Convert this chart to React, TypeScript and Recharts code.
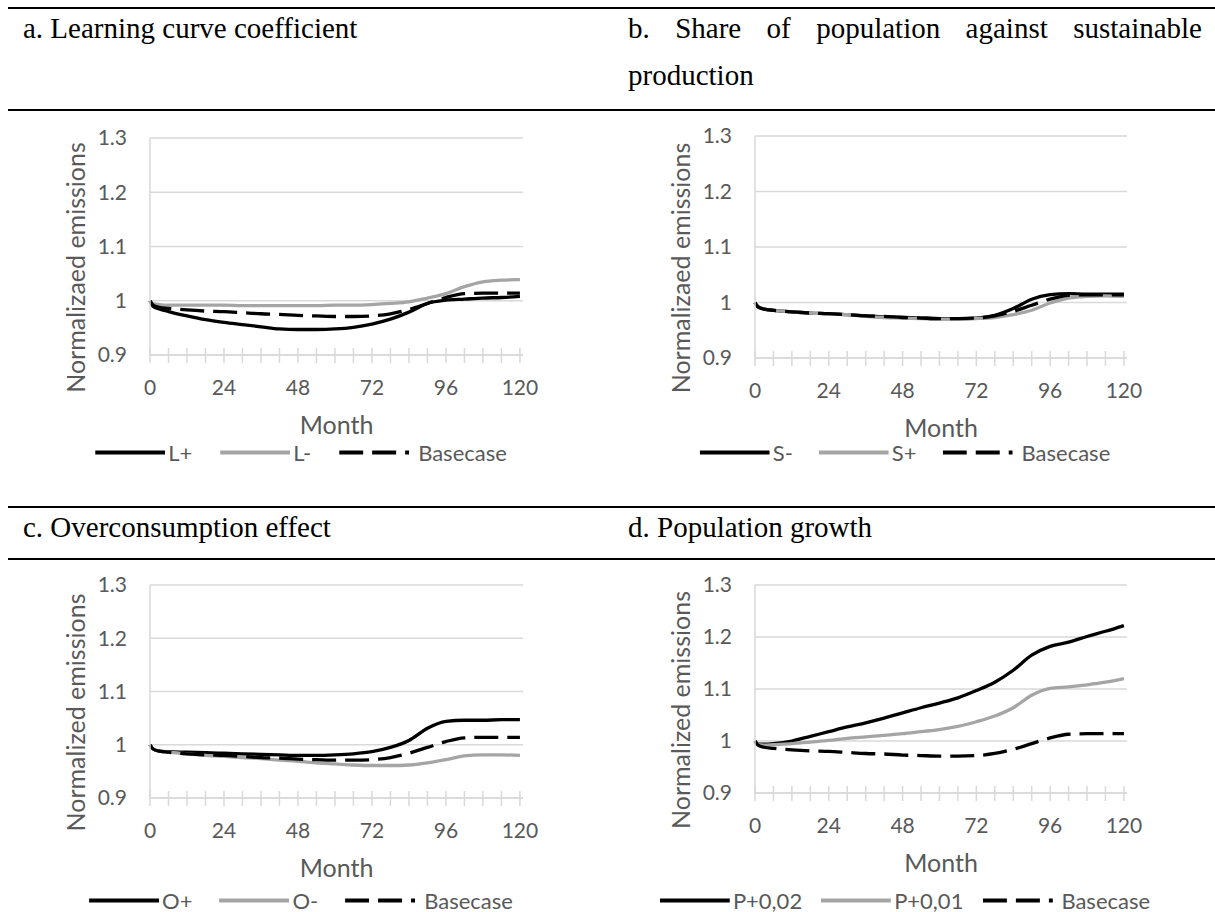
import { LineChart, Line, XAxis, YAxis, CartesianGrid } from "recharts"

const months = [0, 1, 3, 6, 12, 18, 24, 30, 36, 42, 48, 54, 60, 66, 72, 78, 84, 90, 96, 102, 108, 114, 120]

const basecase = [1.0, 0.992, 0.988, 0.986, 0.983, 0.981, 0.98, 0.978, 0.976, 0.975, 0.973, 0.972, 0.971, 0.971, 0.972, 0.976, 0.984, 0.995, 1.006, 1.013, 1.014, 1.014, 1.014]

const learningPlus = [1.0, 0.99, 0.985, 0.98, 0.972, 0.965, 0.96, 0.956, 0.952, 0.948, 0.947, 0.947, 0.948, 0.951, 0.957, 0.966, 0.979, 0.995, 1.001, 1.003, 1.005, 1.006, 1.008]
const learningMinus = [1.0, 0.995, 0.993, 0.992, 0.992, 0.992, 0.992, 0.991, 0.991, 0.991, 0.991, 0.991, 0.992, 0.992, 0.993, 0.995, 0.998, 1.005, 1.013, 1.026, 1.035, 1.038, 1.039]

const shareMinus = [1.0, 0.992, 0.988, 0.986, 0.983, 0.981, 0.98, 0.978, 0.976, 0.974, 0.973, 0.972, 0.971, 0.971, 0.972, 0.977, 0.989, 1.006, 1.014, 1.016, 1.015, 1.015, 1.015]
const sharePlus = [1.0, 0.992, 0.988, 0.986, 0.983, 0.981, 0.98, 0.978, 0.975, 0.973, 0.972, 0.971, 0.97, 0.97, 0.971, 0.973, 0.978, 0.986, 0.999, 1.008, 1.011, 1.012, 1.011]

const overPlus = [1.0, 0.992, 0.988, 0.987, 0.986, 0.985, 0.984, 0.983, 0.982, 0.981, 0.98, 0.98, 0.981, 0.983, 0.987, 0.995, 1.008, 1.031, 1.044, 1.046, 1.046, 1.047, 1.047]
const overMinus = [1.0, 0.992, 0.988, 0.986, 0.983, 0.98, 0.978, 0.976, 0.974, 0.971, 0.969, 0.966, 0.964, 0.962, 0.961, 0.961, 0.962, 0.966, 0.972, 0.979, 0.981, 0.981, 0.98]

const popPlus002 = [1.0, 0.994, 0.994, 0.995, 1.0, 1.009, 1.018, 1.027, 1.035, 1.044, 1.054, 1.064, 1.073, 1.083, 1.097, 1.113, 1.136, 1.165, 1.182, 1.19, 1.201, 1.211, 1.222]
const popPlus001 = [1.0, 0.993, 0.992, 0.993, 0.995, 0.998, 1.001, 1.005, 1.008, 1.011, 1.014, 1.018, 1.022, 1.028, 1.037, 1.048, 1.064, 1.088, 1.101, 1.104, 1.108, 1.113, 1.12]

const monthTicks = [0, 6, 12, 18, 24, 30, 36, 42, 48, 54, 60, 66, 72, 78, 84, 90, 96, 102, 108, 114, 120]
const emissionTicks = [0.9, 1, 1.1, 1.2, 1.3]

const BLACK = "#000000"
const GRAY = "#A5A5A5"
const GRID = "#D9D9D9"
const TEXT = "#595959"
const DASH = "24 9"
const SANS = "Lato, 'Open Sans', sans-serif"
const SERIF = "'Liberation Serif', 'Times New Roman', serif"

type Series = { name: string; values: number[]; color: string; dashed?: boolean }

const MonthTick = (props: any) => {
  const { x, y, payload } = props
  const m = payload.value
  return (
    <g>
      <line x1={x} x2={x} y1={y - 7} y2={y + 8} stroke={GRID} strokeWidth={1.5} />
      {m % 24 === 0 && (
        <text x={x} y={y + 31} textAnchor="middle" dominantBaseline="central" fill={TEXT} fontSize={21} fontFamily={SANS}>
          {m}
        </text>
      )}
    </g>
  )
}

const MonthTitle = (props: any) => {
  const vb = props.viewBox
  return (
    <text x={vb.x + vb.width / 2} y={vb.y + 69} textAnchor="middle" dominantBaseline="central" fill={TEXT} fontSize={25} fontFamily={SANS}>
      Month
    </text>
  )
}

const EmissionTitle = (props: any) => {
  const vb = props.viewBox
  const cx = vb.x + vb.width - 75
  const cy = vb.y + vb.height / 2 + 21
  return (
    <text
      x={cx}
      y={cy}
      transform={`rotate(-90, ${cx}, ${cy})`}
      textAnchor="middle"
      dominantBaseline="central"
      fill={TEXT}
      fontSize={25}
      fontFamily={SANS}
    >
      {props.text}
    </text>
  )
}

function LegendRow({ series, cx, cy, gap }: { series: Series[]; cx: number; cy: number; gap: number }) {
  return (
    <div
      style={{
        position: "absolute",
        left: cx,
        top: cy,
        transform: "translate(-50%, -50%)",
        display: "flex",
        alignItems: "center",
        gap,
        whiteSpace: "nowrap",
        fontFamily: SANS,
        fontSize: 22,
        color: TEXT,
      }}
    >
      {series.map((s) => (
        <div key={s.name} style={{ display: "flex", alignItems: "center" }}>
          <svg width={70} height={8}>
            <line x1={0} x2={70} y1={4} y2={4} stroke={s.color} strokeWidth={4} strokeDasharray={s.dashed ? DASH : undefined} />
          </svg>
          <span style={{ marginLeft: s.dashed ? 9 : 3 }}>{s.name}</span>
        </div>
      ))}
    </div>
  )
}

function Panel(p: {
  left: number
  top: number
  width: number
  height: number
  yTitle: string
  series: Series[]
}) {
  const data = months.map((month, i) => {
    const row: Record<string, number> = { month }
    p.series.forEach((s, j) => {
      row["s" + j] = s.values[i]
    })
    return row
  })
  return (
    <div style={{ position: "absolute", left: p.left, top: p.top }}>
      <LineChart width={p.width + 30} height={p.height} data={data} margin={{ top: 13, right: 37, bottom: 0, left: 0 }}>
        <CartesianGrid vertical={false} stroke={GRID} strokeWidth={1.5} />
        <XAxis
          dataKey="month"
          type="number"
          domain={[0, 121]}
          ticks={monthTicks}
          interval={0}
          height={90}
          tickSize={0}
          tickMargin={0}
          tickLine={false}
          axisLine={{ stroke: GRID, strokeWidth: 1.5 }}
          tick={(t: any) => <MonthTick {...t} />}
          label={<MonthTitle />}
        />
        <YAxis
          type="number"
          domain={[0.9, 1.3]}
          ticks={emissionTicks}
          interval={0}
          width={110}
          tickSize={0}
          tickMargin={23}
          tickLine={false}
          axisLine={{ stroke: GRID, strokeWidth: 1.5 }}
          tick={{ fill: TEXT, fontSize: 21, fontFamily: SANS }}
          label={<EmissionTitle text={p.yTitle} />}
        />
        {p.series.map((s, j) => (
          <Line
            key={s.name}
            type="monotone"
            dataKey={"s" + j}
            stroke={s.color}
            strokeWidth={3.3}
            strokeDasharray={s.dashed ? DASH : undefined}
            dot={false}
            activeDot={false}
            isAnimationActive={false}
          />
        ))}
      </LineChart>
    </div>
  )
}

const base: Series = { name: "Basecase", values: basecase, color: BLACK, dashed: true }

const seriesA: Series[] = [
  { name: "L+", values: learningPlus, color: BLACK },
  { name: "L-", values: learningMinus, color: GRAY },
  base,
]
const seriesB: Series[] = [
  { name: "S-", values: shareMinus, color: BLACK },
  { name: "S+", values: sharePlus, color: GRAY },
  base,
]
const seriesC: Series[] = [
  { name: "O+", values: overPlus, color: BLACK },
  { name: "O-", values: overMinus, color: GRAY },
  base,
]
const seriesD: Series[] = [
  { name: "P+0,02", values: popPlus002, color: BLACK },
  { name: "P+0,01", values: popPlus001, color: GRAY },
  base,
]

const Rule = ({ y }: { y: number }) => (
  <div style={{ position: "absolute", left: 8, top: y - 1, width: 1207, height: 2, background: "#000" }} />
)

const titleStyle = {
  position: "absolute" as const,
  fontFamily: SERIF,
  fontSize: 29,
  lineHeight: "29px",
  color: "#000",
  whiteSpace: "nowrap" as const,
}

export default function App() {
  return (
    <div style={{ position: "absolute", left: 0, top: 0, width: 1215, height: 912, background: "#fff", overflow: "hidden" }}>
      <Rule y={8} />
      <Rule y={110} />
      <Rule y={507} />
      <Rule y={559} />

      <div style={{ ...titleStyle, left: 23, top: 14 }}>a. Learning curve coefficient</div>
      <div style={{ ...titleStyle, left: 628, top: 14, width: 574, textAlign: "justify", textAlignLast: "justify", whiteSpace: "normal" }}>
        b. Share of population against sustainable
      </div>
      <div style={{ ...titleStyle, left: 628, top: 61 }}>production</div>
      <div style={{ ...titleStyle, left: 23, top: 513 }}>c. Overconsumption effect</div>
      <div style={{ ...titleStyle, left: 628, top: 513 }}>d. Population growth</div>

      <Panel left={40} top={125} width={490} height={320} yTitle="Normalizaed emissions" series={seriesA} />
      <Panel left={645} top={123} width={489} height={325} yTitle="Normalizaed emissions" series={seriesB} />
      <Panel left={40} top={572} width={490} height={316} yTitle="Normalized emissions" series={seriesC} />
      <Panel left={645} top={572} width={489} height={311} yTitle="Normalized emissions" series={seriesD} />

      <LegendRow series={seriesA} cx={301} cy={452} gap={28} />
      <LegendRow series={seriesB} cx={905} cy={452} gap={26} />
      <LegendRow series={seriesC} cx={301} cy={900} gap={27} />
      <LegendRow series={seriesD} cx={905} cy={900} gap={19} />
    </div>
  )
}
